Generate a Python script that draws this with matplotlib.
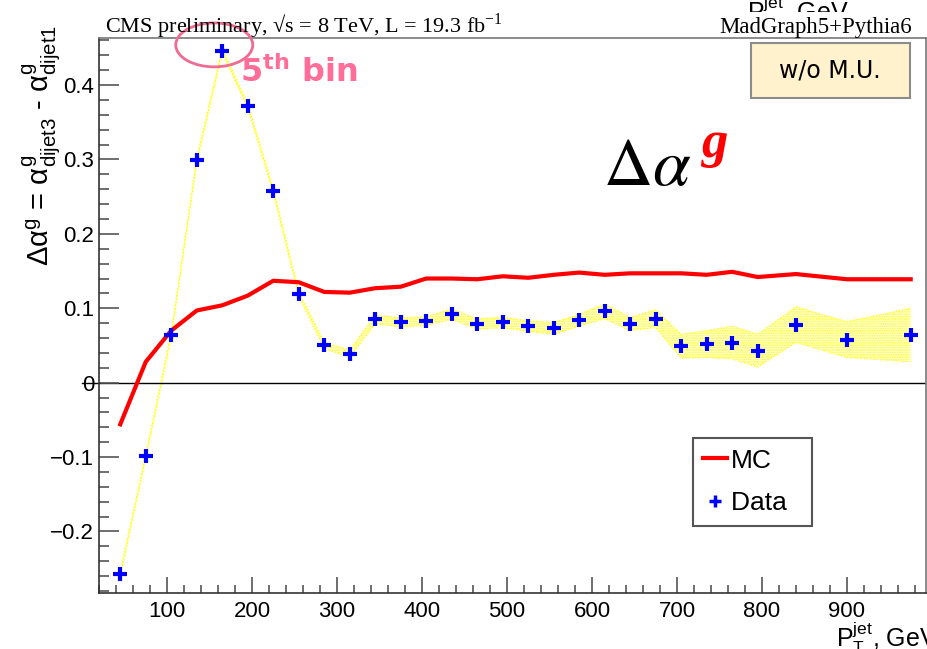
import numpy as np
import matplotlib
matplotlib.use('Agg')
import matplotlib.pyplot as plt
from matplotlib.lines import Line2D
from matplotlib.patches import Ellipse, Rectangle
from matplotlib.transforms import Bbox
from matplotlib.ticker import FixedLocator, MultipleLocator, FuncFormatter

plt.rcParams['font.family'] = ['Liberation Sans', 'DejaVu Sans']
plt.rcParams['mathtext.fontset'] = 'custom'
plt.rcParams['mathtext.rm'] = 'Liberation Sans'
plt.rcParams['mathtext.it'] = 'Liberation Sans:italic'
plt.rcParams['mathtext.bf'] = 'Liberation Sans:bold'
plt.rcParams['hatch.linewidth'] = 1.0

# bin centres, GeV
pt = [45, 75, 105, 135, 165, 195, 225, 255, 285, 315, 345, 375, 405, 435, 465,
      495, 525, 555, 585, 615, 645, 675, 705, 735, 765, 795, 840, 900, 975]

mc = [-0.056, 0.028, 0.070, 0.097, 0.104, 0.117, 0.137, 0.135, 0.122, 0.121,
      0.127, 0.129, 0.140, 0.140, 0.139, 0.143, 0.141, 0.145, 0.148, 0.145,
      0.147, 0.147, 0.147, 0.145, 0.149, 0.142, 0.146, 0.139, 0.139]

data = [-0.257, -0.099, 0.064, 0.299, 0.446, 0.372, 0.258, 0.119, 0.050, 0.039,
        0.085, 0.081, 0.083, 0.092, 0.079, 0.081, 0.076, 0.073, 0.084, 0.096,
        0.079, 0.086, 0.049, 0.052, 0.054, 0.043, 0.078, 0.058, 0.064]

data_err = [0.003, 0.003, 0.003, 0.003, 0.003, 0.003, 0.003, 0.003, 0.004, 0.005,
            0.006, 0.006, 0.006, 0.007, 0.007, 0.007, 0.007, 0.008, 0.008, 0.010,
            0.009, 0.012, 0.016, 0.018, 0.022, 0.022, 0.024, 0.024, 0.036]

y_ticks = [-0.2, -0.1, 0, 0.1, 0.2, 0.3, 0.4]

W, H = 927, 649
fig = plt.figure(figsize=(W / 100, H / 100), dpi=100)
ax = fig.add_axes([99 / W, (H - 593) / H, (926 - 99) / W, (593 - 37.7) / H])

pt = np.array(pt)
data = np.array(data)
data_err = np.array(data_err)
lo = data - data_err
hi = data + data_err

# data uncertainty band
ax.fill_between(pt, lo, hi, facecolor='none', edgecolor='#ffff00', hatch='.......',
                linewidth=0, zorder=1)
ax.plot(pt, lo, color='#ffff00', lw=0.9, ls=':', zorder=1)
ax.plot(pt, hi, color='#ffff00', lw=0.9, ls=':', zorder=1)

ax.plot(pt, mc, color='#ff0000', lw=3, zorder=2)
ax.plot(pt, data, ls='none', marker='+', ms=10, mew=3, color='#0000ff', zorder=3)

ax.set_xlim(20, 993)
ax.set_ylim(-0.2827, 0.4637)

ax.axhline(0, color='k', lw=1, zorder=1.5)
ax.plot([-0.02, 0], [0, 0], transform=ax.get_yaxis_transform(), color='k', lw=1,
        clip_on=False)

ax.xaxis.set_major_locator(MultipleLocator(100))
ax.xaxis.set_minor_locator(MultipleLocator(20))
ax.yaxis.set_major_locator(FixedLocator(y_ticks))
ax.yaxis.set_minor_locator(MultipleLocator(0.02))
ax.xaxis.set_major_formatter(FuncFormatter(lambda v, p: '%d' % v if v > 50 else ''))
ax.yaxis.set_major_formatter(FuncFormatter(
    lambda v, p: '0' if abs(v) < 1e-9 else ('%.1f' % v).replace('-', '\u2212')))

ax.tick_params(which='both', direction='in', top=False, right=False, color='#555555',
               labelsize=16, width=1.2)
ax.tick_params(axis='y', which='major', length=14.4, pad=3.5)
ax.tick_params(axis='y', which='minor', length=7.2)
ax.tick_params(axis='x', which='major', length=11.3, pad=5.5)
ax.tick_params(axis='x', which='minor', length=6)

for s in ['left', 'bottom']:
    ax.spines[s].set_color('#333333')
    ax.spines[s].set_linewidth(1.2)
for s in ['top', 'right']:
    ax.spines[s].set_color('#777777')
    ax.spines[s].set_linewidth(1.2)

# axis titles
fig.text(42 / W, 1 - 25 / H,
         r'$\Delta\mathrm{\alpha}^{\mathrm{g}}$ = $\mathrm{\alpha}^{\mathrm{g}}_{\mathrm{dijet3}}$ - '
         r'$\mathrm{\alpha}^{\mathrm{g}}_{\mathrm{dijet1}}$',
         rotation=90, ha='center', va='top', fontsize=21)
fig.text(836 / W, 2 / H, r'P$_{\mathrm{T}}^{\mathrm{jet}}$, GeV', fontsize=18,
         ha='left', va='baseline')

# leftover title of the neighbouring panel, cut at the top
t = fig.text(747 / W, 1 - 21 / H, r'P$_{\mathrm{T}}^{\mathrm{jet}}$, GeV', fontsize=18,
             ha='left', va='baseline')
t.set_clip_box(Bbox([[0, H - 12], [W, H]]))
t.set_clip_on(True)

# header
fig.text(105 / W, 1 - 32.5 / H, 'CMS preliminary, \u221as = 8 TeV, L = 19.3 fb$^{\\mathregular{-1}}$',
         family='Liberation Serif', fontsize=16, ha='left', va='baseline')
fig.text(912 / W, 1 - 32.5 / H, 'MadGraph5+Pythia6',
         family='Liberation Serif', fontsize=16.4, ha='right', va='baseline')

# annotations
fig.patches.append(Rectangle((751 / W, 1 - 98.3 / H), 159 / W, 55 / H,
                             transform=fig.transFigure, facecolor='#fff2cc',
                             edgecolor='#8c8c8c', lw=1.5))
fig.text(830 / W, 1 - 71 / H, 'w/o M.U.', family='DejaVu Sans', fontsize=17,
         ha='center', va='center')

fig.text(603 / W, 1 - 185 / H, r'$\Delta\alpha$', fontsize=49, math_fontfamily='stix',
         ha='left', va='baseline')
fig.text(702 / W, 1 - 157 / H, 'g', family='Liberation Serif', fontsize=38,
         fontweight='bold', style='italic', color='#ff0000', ha='left', va='baseline')

fig.text(240 / W, 1 - 82 / H, '5$^{\\mathregular{th}}$ bin', family='DejaVu Sans',
         fontweight='bold', fontsize=23, color='#ff6d98', ha='left', va='baseline')
ax.add_patch(Ellipse((155.6, 0.454), 90.6, 0.059, facecolor='none',
                     edgecolor='#f06b92', lw=2, clip_on=False, zorder=5))

handles = [Line2D([], [], color='#ff0000', lw=3),
           Line2D([], [], ls='none', marker='+', ms=8, mew=2.5, color='#0000ff')]
leg = ax.legend(handles, ['MC', 'Data  '], loc='upper left',
                bbox_to_anchor=(692.7 / W, 1 - 438 / H), bbox_transform=fig.transFigure,
                borderaxespad=0, fontsize=19, handlelength=0.9, handletextpad=0.15,
                labelspacing=0.7, borderpad=0.4, fancybox=False, framealpha=1)
leg.get_frame().set_edgecolor('#555555')
leg.get_frame().set_linewidth(1.5)

fig.savefig('out.png', dpi=100)
